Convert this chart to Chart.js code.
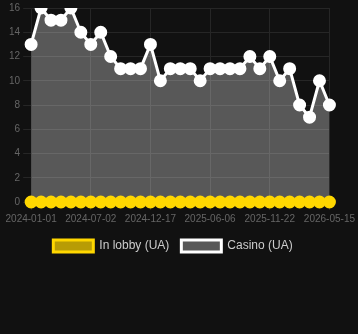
<!DOCTYPE html>
<html lang="en">
<head>
    <meta charset="UTF-8">
    <title>Casino chart</title>
    <script src="https://cdn.jsdelivr.net/npm/chart.js"></script>
    <style>
        body {
            margin: 0;
            background: #111111;
        }
        #chart-container {
            width: 358px;
            height: 262px;
        }
    </style>
</head>
<body>
    <div id="chart-container">
        <canvas id="chart"></canvas>
    </div>
    <script>
        // dates (only every 6th one is labelled on the axis)
        const dates = [
            '2024-01-01', '2024-02-01', '2024-03-01', '2024-04-01', '2024-05-01', '2024-06-01',
            '2024-07-02', '2024-07-30', '2024-08-27', '2024-09-24', '2024-10-22', '2024-11-19',
            '2024-12-17', '2025-01-14', '2025-02-11', '2025-03-11', '2025-04-08', '2025-05-06',
            '2025-06-06', '2025-07-04', '2025-08-01', '2025-08-29', '2025-09-26', '2025-10-24',
            '2025-11-22', '2025-12-20', '2026-01-17', '2026-02-14', '2026-03-14', '2026-04-11',
            '2026-05-15'
        ];
        const inLobby = [0, 0, 0, 0, 0, 0, 0, 0, 0, 0, 0, 0, 0, 0, 0, 0, 0, 0, 0, 0, 0, 0, 0, 0, 0, 0, 0, 0, 0, 0, 0];
        const casino = [13, 16, 15, 15, 16, 14, 13, 14, 12, 11, 11, 11, 13, 10, 11, 11, 11, 10, 11, 11, 11, 11, 12, 11, 12, 10, 11, 8, 7, 10, 8];

        const ctx = document.getElementById('chart').getContext('2d');
        new Chart(ctx, {
            type: 'line',
            data: {
                labels: dates,
                datasets: [
                    {
                        label: 'In lobby (UA)',
                        data: inLobby,
                        borderColor: '#ffd700',
                        backgroundColor: 'rgba(255, 215, 0, 0.7)',
                        pointBackgroundColor: '#ffd700',
                        pointBorderColor: '#ffd700',
                        borderWidth: 3,
                        pointRadius: 5,
                        fill: false
                    },
                    {
                        label: 'Casino (UA)',
                        data: casino,
                        borderColor: '#ffffff',
                        backgroundColor: 'rgba(255, 255, 255, 0.3)',
                        pointBackgroundColor: '#ffffff',
                        pointBorderColor: '#ffffff',
                        borderWidth: 3,
                        pointRadius: 5,
                        fill: 'origin'
                    }
                ]
            },
            options: {
                responsive: true,
                maintainAspectRatio: false,
                animation: false,
                layout: { padding: { left: 6, right: 18, top: 0, bottom: 0 } },
                scales: {
                    x: {
                        grid: { color: '#262626' },
                        ticks: {
                            color: '#666',
                            font: { size: 10 },
                            autoSkip: false,
                            maxRotation: 0,
                            callback: function (val, i) {
                                return i % 6 === 0 ? dates[i] : null;
                            }
                        }
                    },
                    y: {
                        beginAtZero: true,
                        max: 16,
                        grid: { color: '#262626' },
                        ticks: { color: '#666', font: { size: 10, lineHeight: 0.4 }, stepSize: 2 }
                    }
                },
                plugins: {
                    legend: {
                        position: 'bottom',
                        labels: { color: '#ccc', font: { size: 12 }, padding: 12 }
                    }
                }
            }
        });
    </script>
</body>
</html>
